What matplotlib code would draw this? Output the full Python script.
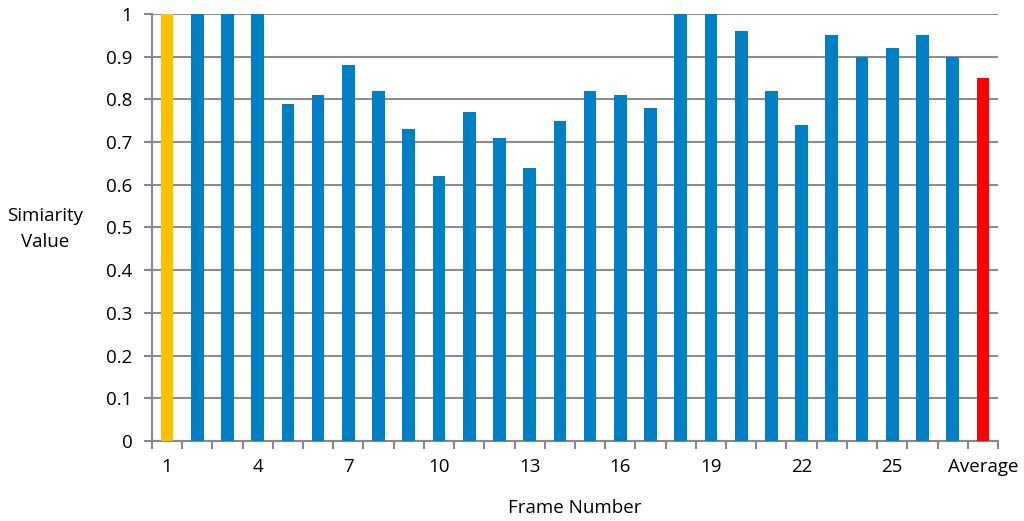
import matplotlib
matplotlib.use("Agg")
import matplotlib.pyplot as plt
import numpy as np

# Data
frames = [str(i) for i in range(1, 28)] + ["Average"]
similarity = [1.0, 1.0, 1.0, 1.0, 0.79, 0.81, 0.88, 0.82, 0.73, 0.62,
              0.77, 0.71, 0.64, 0.75, 0.82, 0.81, 0.78, 1.0, 1.0, 0.96,
              0.82, 0.74, 0.95, 0.90, 0.92, 0.95, 0.90, 0.85]
tick_labels = ["1", "4", "7", "10", "13", "16", "19", "22", "25", "Average"]

plt.rcParams['font.family'] = ['Open Sans', 'DejaVu Sans']

fig = plt.figure(figsize=(10.24, 5.21), dpi=100)
ax = fig.add_axes([0.1484, 0.1536, 0.8262, 0.8195])

x = np.arange(len(frames))
colors = ['#0080c4'] * len(frames)
colors[0] = '#ffc000'
colors[-1] = '#ff0000'
ax.bar(x, similarity, width=0.42, color=colors, zorder=3)

ax.set_xlim(-0.5, len(frames) - 0.5)
ax.set_ylim(0, 1)
ax.set_yticks(np.arange(0, 1.01, 0.1))
ax.set_yticklabels(["0"] + [f"{v:.1f}" for v in np.arange(0.1, 0.95, 0.1)] + ["1"])

# labelled ticks every 3 frames plus Average
label_pos = [frames.index(t) for t in tick_labels]
ax.set_xticks(label_pos)
ax.set_xticklabels(tick_labels)
ax.set_xticks(np.arange(-0.5, len(frames), 1), minor=True)
ax.tick_params(axis='x', which='major', length=0, pad=12, labelsize=13.5)
ax.tick_params(axis='x', which='minor', length=6, width=1.5, color='#888888')
ax.tick_params(axis='y', length=6, width=1.5, color='#888888', pad=8, labelsize=13.5)

ax.grid(axis='y', color='#8c8c8c', linewidth=1.5, zorder=0)
for s in ['top', 'right']:
    ax.spines[s].set_visible(False)
for s in ['left', 'bottom']:
    ax.spines[s].set_color('#888888')
    ax.spines[s].set_linewidth(1.5)

ax.set_xlabel("Frame Number", fontsize=13.5, labelpad=17)
fig.text(0.044, 0.56, "Simiarity\nValue", ha='center', va='center',
         fontsize=13.5, linespacing=1.55)

fig.savefig("out.png", dpi=100)
